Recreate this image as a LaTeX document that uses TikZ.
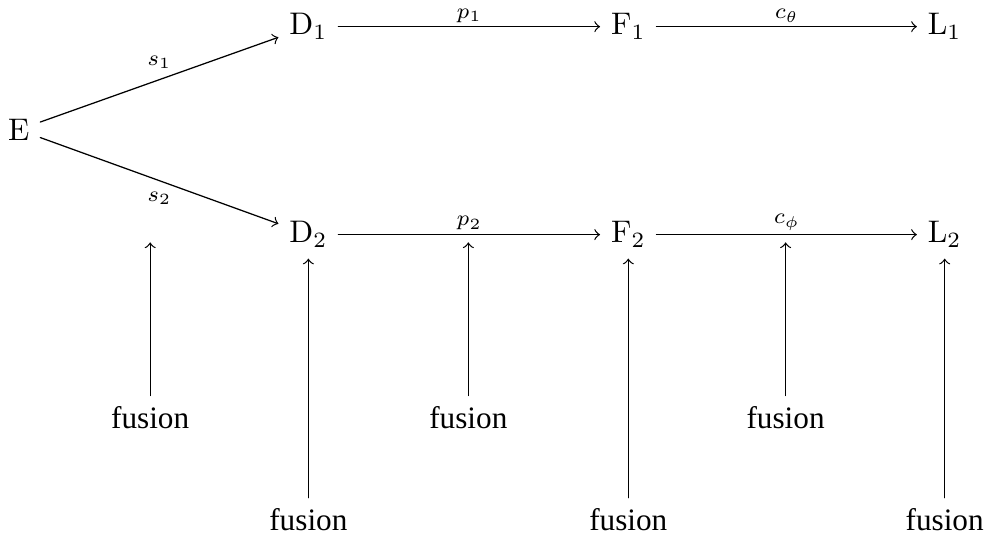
\documentclass[tikz,border=0pt]{standalone}
\usepackage{fontspec}
\newfontfamily\fusionfont{Liberation Serif}
\begin{document}
\begin{tikzpicture}[line cap=round, line join=round, >=to,
    lbl/.style={font=\scriptsize},
    lblnear/.style={lbl, inner sep=1.2pt},
    fus/.style={font=\fusionfont}]
  % Fix the page size
  \useasboundingbox (0,0) rectangle (11.14,-6.075);

  % Row heights
  \def\ytop{-0.30} \def\ymid{-1.46} \def\ybot{-2.64}

  % Main nodes
  \node (E) at (0.21,\ymid) {$\mathrm{E}$};
  \node (D1) at (3.47,\ytop) {$\mathrm{D}_1$};
  \node (F1) at (7.07,\ytop) {$\mathrm{F}_1$};
  \node (L1) at (10.63,\ytop) {$\mathrm{L}_1$};
  \node (D2) at (3.47,\ybot) {$\mathrm{D}_2$};
  \node (F2) at (7.07,\ybot) {$\mathrm{F}_2$};
  \node (L2) at (10.63,\ybot) {$\mathrm{L}_2$};

  % Empty places between the columns of the lower row
  \coordinate (m1) at (1.69,\ybot);
  \coordinate (m2) at (5.27,\ybot);
  \coordinate (m3) at (8.84,\ybot);

  % Maps
  \draw[->] (E) -- node[lbl, above] {$s_1$} (D1);
  \draw[->] (E) -- node[lbl, below] {$s_2$} (D2);
  \draw[->] (D1) -- node[lblnear, above] {$p_1$} (F1);
  \draw[->] (F1) -- node[lblnear, above] {$c_\theta$} (L1);
  \draw[->] (D2) -- node[lblnear, above] {$p_2$} (F2);
  \draw[->] (F2) -- node[lblnear, above] {$c_\phi$} (L2);

  % Upper fusion row, pointing at the empty places
  \foreach \i/\x in {1/1.69, 2/5.27, 3/8.84} {
    \node[fus] (fu\i) at (\x,-4.70) {fusion};
    \draw[->, shorten >=2.5pt] (fu\i) -- (m\i);
  }

  % Lower fusion row, pointing at the nodes
  \foreach \i/\x/\t in {1/3.47/D2, 2/7.07/F2, 3/10.63/L2} {
    \node[fus] (fl\i) at (\x,-5.85) {fusion};
    \draw[->] (fl\i) -- (\t);
  }
\end{tikzpicture}
\end{document}
